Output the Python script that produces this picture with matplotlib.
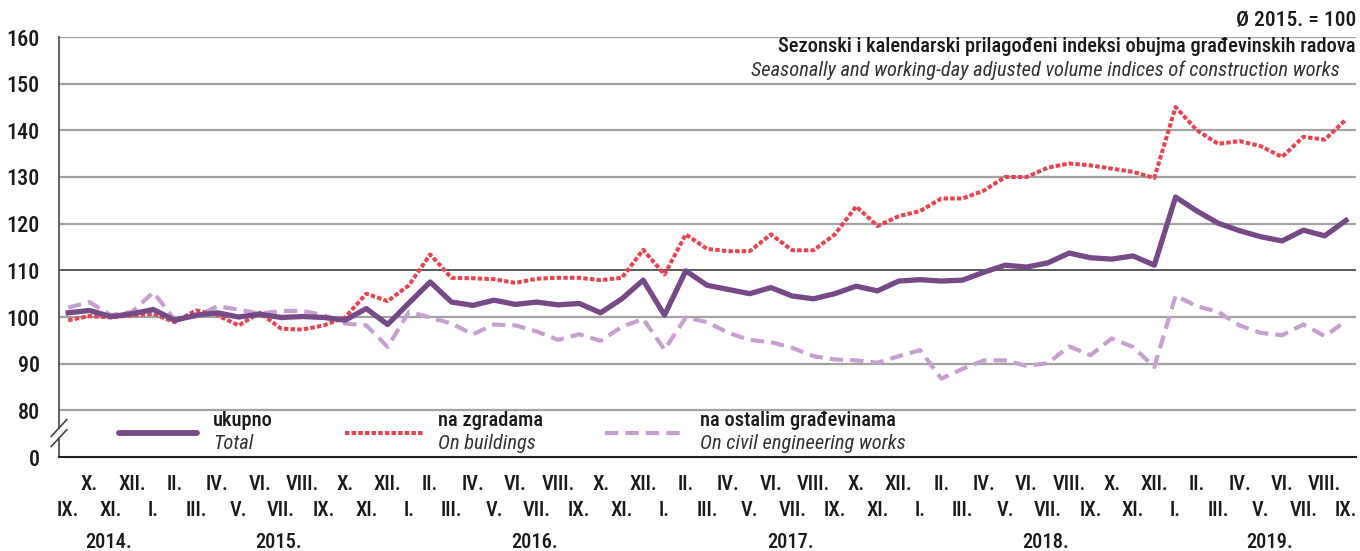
import os
import matplotlib
matplotlib.use("Agg")
import matplotlib.pyplot as plt
import matplotlib.transforms as mtransforms
from matplotlib import font_manager
from matplotlib.font_manager import FontProperties
import numpy as np

# ---------------- data ----------------
months = ["IX.", "X.", "XI.", "XII."] + \
         ["I.", "II.", "III.", "IV.", "V.", "VI.", "VII.", "VIII.", "IX.", "X.", "XI.", "XII."] * 4 + \
         ["I.", "II.", "III.", "IV.", "V.", "VI.", "VII.", "VIII.", "IX."]
years = ["2014.", "2015.", "2016.", "2017.", "2018.", "2019."]
year_counts = [4, 12, 12, 12, 12, 9]

total = [100.9, 101.4, 100.1, 100.7, 101.6, 99.3, 100.4, 100.9, 100.0, 100.6, 99.9, 100.1,
         99.9, 99.3, 101.8, 98.4, 103.0, 107.5, 103.2, 102.5, 103.6, 102.7, 103.2, 102.6,
         102.9, 100.9, 103.9, 107.9, 100.4, 109.9, 106.8, 105.9, 105.0, 106.3, 104.5, 103.9,
         105.0, 106.6, 105.6, 107.7, 108.0, 107.7, 107.9, 109.6, 111.1, 110.7, 111.6, 113.7,
         112.7, 112.4, 113.1, 111.1, 125.7, 122.7, 120.1, 118.5, 117.2, 116.3, 118.6, 117.4,
         120.7]
buildings = [99.3, 100.2, 99.9, 100.4, 100.7, 98.9, 101.4, 100.4, 98.2, 100.9, 97.5, 97.3,
             98.2, 99.9, 105.0, 103.4, 106.8, 113.4, 108.4, 108.3, 108.1, 107.3, 108.2, 108.4,
             108.4, 107.9, 108.4, 114.4, 109.1, 117.7, 114.6, 114.1, 114.1, 117.7, 114.3, 114.3,
             117.7, 123.7, 119.5, 121.6, 122.7, 125.4, 125.4, 127.1, 130.0, 130.0, 132.0, 132.9,
             132.5, 131.8, 131.1, 129.8, 145.0, 140.0, 137.1, 137.7, 136.6, 134.3, 138.6, 138.0,
             142.3]
civil = [102.0, 103.2, 100.4, 101.1, 105.3, 99.4, 100.1, 102.3, 101.6, 100.7, 101.3, 101.3,
         100.4, 98.6, 98.2, 93.6, 101.1, 99.9, 98.6, 96.3, 98.4, 98.2, 96.9, 95.1,
         96.3, 94.9, 97.9, 99.6, 93.0, 99.9, 98.9, 96.6, 95.1, 94.6, 93.4, 91.6,
         90.9, 90.7, 90.2, 91.6, 92.9, 86.8, 88.9, 90.7, 90.7, 89.5, 90.1, 93.7,
         91.8, 95.4, 93.6, 89.3, 104.6, 102.3, 101.1, 98.2, 96.6, 96.1, 98.4, 95.9,
         99.1]

series_names = [("ukupno", "Total"), ("na zgradama", "On buildings"),
                ("na ostalim građevinama", "On civil engineering works")]

ytick_vals = [70, 80, 90, 100, 110, 120, 130, 140, 150, 160]
ytick_labels = ["0", "80", "90", "100", "110", "120", "130", "140", "150", "160"]

title_unit = "Ø 2015. = 100"
title_hr = "Sezonski i kalendarski prilagođeni indeksi obujma građevinskih radova"
title_en = "Seasonally and working-day adjusted volume indices of construction works"

# ---------------- fonts: prefer a condensed sans ----------------
def _norm(path):
    return os.path.basename(path).lower().replace("_", "").replace("-", "").replace(" ", "")

def pick_font(want_italic, weight_key):
    prefs = ["robotocondensed", "liberationsansnarrow", "notosans", "opensans", "dejavusans", "lato", "inter"]
    other_weights = ["bold", "light", "thin", "semi", "extra", "black", "medium", "regular", "mono", "serif"]
    cands = []
    for f in font_manager.fontManager.ttflist:
        b = _norm(f.fname)
        if not ("condensed" in b or "narrow" in b):
            continue
        if "semicondensed" in b or "extracondensed" in b:
            continue
        is_it = ("italic" in b) or ("oblique" in b)
        if is_it != want_italic:
            continue
        if weight_key is not None and weight_key not in b:
            continue
        bad = [k for k in other_weights if k in b and k != weight_key and k != "regular"]
        if bad:
            continue
        rank = next((i for i, p in enumerate(prefs) if b.startswith(p)), len(prefs))
        cands.append((rank, f.fname))
    if cands:
        cands.sort()
        return FontProperties(fname=cands[0][1])
    return None

FP_REG = pick_font(False, None) or FontProperties(family=["Roboto", "DejaVu Sans"])
FP_MED = pick_font(False, "medium") or FP_REG
FP_IT = pick_font(True, None)
if FP_IT is None:
    FP_IT = FontProperties(family=["Roboto", "DejaVu Sans"], style="italic")

def fp(base, size):
    p = base.copy()
    p.set_size(size)
    return p

C_TOTAL = "#764a86"
C_BUILD = "#e8434f"
C_CIVIL = "#c6a0cf"
C_GRID = "#a3a3a3"
C_TXT = "#1a1a1a"

fig = plt.figure(figsize=(13.6, 5.51), dpi=100)

# scale font so that the main title spans ~581 px like in the reference
probe = fig.text(0, 0, title_hr, fontproperties=fp(FP_MED, 15))
fig.canvas.draw()
w = probe.get_window_extent().width
probe.remove()
FS = min(16.0, 15.0 * 581.0 / w)

ax = fig.add_axes([59/1360, 1-457/551, (1356-59)/1360, (457-37)/551])
x = np.arange(len(total))

# grid lines
for v in ytick_vals[1:]:
    ax.axhline(v, color="#404040" if v == 110 else C_GRID, lw=1.2 if v == 110 else 1.6, zorder=1)

ax.plot(x, civil, color=C_CIVIL, lw=3.0, dashes=(3.2, 1.7), zorder=3)
ax.plot(x, buildings, color=C_BUILD, lw=2.9, dashes=(1.1, 0.55), zorder=4)
ax.plot(x, total, color=C_TOTAL, lw=3.8, zorder=5)

ax.set_xlim(-0.43, len(total) - 1 + 0.47)
ax.set_ylim(70, 160)

ax.set_yticks(ytick_vals)
ax.set_yticklabels(ytick_labels, fontproperties=fp(FP_MED, FS * 1.08), color=C_TXT)
ax.tick_params(axis="y", length=0, pad=14)

# month labels in two staggered rows
odd = [i for i in x if i % 2 == 1]
even = [i for i in x if i % 2 == 0]
ax.set_xticks(odd)
ax.set_xticklabels([months[i] for i in odd], fontproperties=fp(FP_MED, FS), color=C_TXT)
ax.set_xticks(even, minor=True)
ax.set_xticklabels([months[i] for i in even], minor=True, fontproperties=fp(FP_MED, FS), color=C_TXT)
ax.tick_params(axis="x", which="major", length=0, pad=13)
ax.tick_params(axis="x", which="minor", length=0, pad=31.5)

for s in ["top", "right"]:
    ax.spines[s].set_visible(False)
ax.spines["left"].set_color("#555555")
ax.spines["left"].set_linewidth(1.3)
ax.spines["bottom"].set_color("#222222")
ax.spines["bottom"].set_linewidth(1.5)

# year labels
trans = mtransforms.blended_transform_factory(ax.transData, ax.transAxes)
start = 0
for yl, n in zip(years, year_counts):
    center = start + (n - 1) / 2 + 0.4
    ax.text(center, -86/420, yl, transform=trans, ha="center", va="center",
            fontproperties=fp(FP_MED, FS), color=C_TXT)
    start += n

# axis break marks
for dy in (-0.012, 0.012):
    ax.plot([-0.006, 0.006], [0.057 + dy - 0.02, 0.057 + dy + 0.02], transform=ax.transAxes,
            color="#444444", lw=1.2, clip_on=False, zorder=6)
ax.plot([0, 0], [0.052, 0.062], transform=ax.transAxes, color="white", lw=3,
        clip_on=False, zorder=5.5)

# legend (drawn in axes coordinates)
leg_cfg = [
    (C_TOTAL, dict(lw=4.2, solid_capstyle="round"), 0.0463, 0.1064, 0.1187),
    (C_BUILD, dict(lw=2.9, dashes=(1.1, 0.55)), 0.2205, 0.2807, 0.2922),
    (C_CIVIL, dict(lw=3.0, dashes=(3.2, 1.7)), 0.4210, 0.4811, 0.4942),
]
for (name, name_en), (col, kw, x0, x1, xt) in zip(series_names, leg_cfg):
    ax.plot([x0, x1], [0.057, 0.057], transform=ax.transAxes, color=col, clip_on=False, **kw)
    ax.text(xt, 0.088, name, transform=ax.transAxes, fontproperties=fp(FP_MED, FS),
            color=C_TXT, va="center", ha="left")
    ax.text(xt, 0.031, name_en, transform=ax.transAxes, fontproperties=fp(FP_IT, FS),
            color="#333333", va="center", ha="left")

# titles
fig.text(1356/1360, 1-20/551, title_unit, ha="right", va="center",
         fontproperties=fp(FP_MED, FS * 1.05), color=C_TXT)
fig.text(1356/1360, 1-47/551, title_hr, ha="right", va="center",
         fontproperties=fp(FP_MED, FS), color=C_TXT)
fig.text(1340/1360, 1-70/551, title_en, ha="right", va="center",
         fontproperties=fp(FP_IT, FS), color="#333333")

fig.savefig("out.png", dpi=100)
